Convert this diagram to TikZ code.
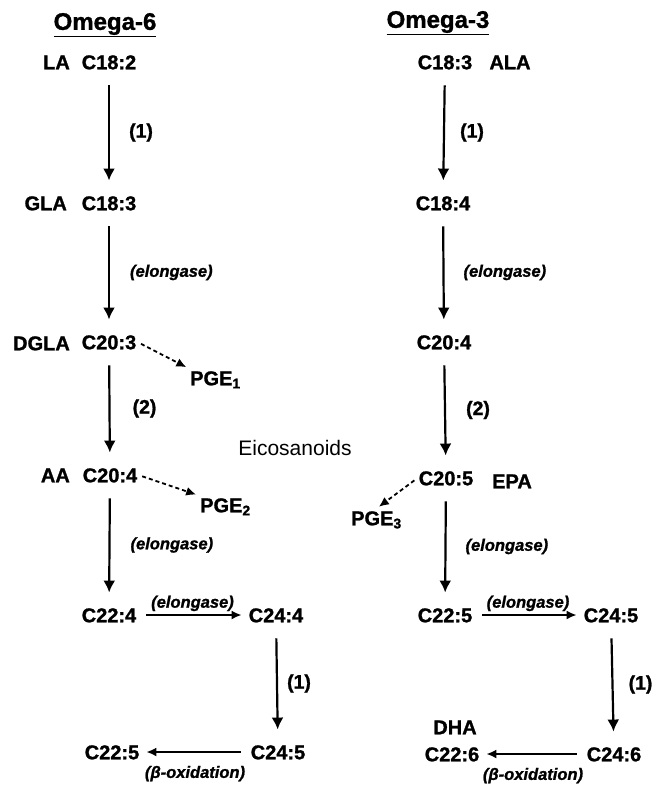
\documentclass[tikz,border=0pt]{standalone}
\usepackage{fontspec}
\setmainfont{Liberation Sans}[BoldFeatures={FakeBold=1.2},BoldItalicFeatures={FakeBold=1.2}]
\usetikzlibrary{arrows.meta}

\begin{document}
\begin{tikzpicture}[x=1pt,y=-1pt,
  acid/.style={font=\bfseries\fontsize{20}{20}\selectfont, inner xsep=1pt, inner ysep=2pt, text height=14.5pt, text depth=0pt},
  head/.style={font=\bfseries\fontsize{24}{24}\selectfont, inner sep=1pt},
  enz/.style={font=\bfseries\itshape\fontsize{16.5}{16.5}\selectfont, inner sep=1pt},
  num/.style={font=\bfseries\fontsize{19.5}{19.5}\selectfont, inner sep=1pt},
  conv/.style={line width=2.2pt, -{Latex[length=12pt,width=12pt]}, shorten <=14pt, shorten >=13pt},
  side/.style={line width=1.8pt, -{Latex[length=10pt,width=9pt]}, shorten <=9pt, shorten >=6pt},
  prost/.style={line width=1.8pt, dash pattern=on 4pt off 3pt, -{Latex[length=10pt,width=9pt]}, shorten <=4pt, shorten >=3pt}
]
\useasboundingbox (0,0) rectangle (658,785);

% headings
\node[head] (om6) at (105,25) {\underline{Omega-6}};
\node[head] (om3) at (438,23) {\underline{Omega-3}};

% omega-6 series
\node[acid] (la) at (109,62) {C18:2};
\node[acid] (gla) at (109,203) {C18:3};
\node[acid] (dgla) at (109,342) {C20:3};
\node[acid] (aa) at (110,475) {C20:4};
\node[acid] (c224) at (109,615) {C22:4};
\node[acid] (c244) at (276,615) {C24:4};
\node[acid] (c245) at (278,752) {C24:5};
\node[acid] (c225) at (112,752) {C22:5};

\node[acid, anchor=east] (lan) at (71,62) {LA};
\node[acid, anchor=east] (glan) at (68,203) {GLA};
\node[acid, anchor=east] (dglan) at (71,343) {DGLA};
\node[acid, anchor=east] (aan) at (71,475) {AA};

\node[acid, anchor=west] (pge1) at (189,378) {PGE\textsubscript{1}};
\node[acid, anchor=west] (pge2) at (199,505) {PGE\textsubscript{2}};

% omega-3 series
\node[acid] (ala) at (445,62) {C18:3};
\node[acid] (c184) at (443,203) {C18:4};
\node[acid] (c204) at (444,342) {C20:4};
\node[acid] (epa) at (446,478) {C20:5};
\node[acid] (c225r) at (445,615) {C22:5};
\node[acid] (c245r) at (611,615) {C24:5};
\node[acid] (c246) at (614,754) {C24:6};
\node[acid] (dha) at (452,754) {C22:6};

\node[acid] (alan) at (510,62) {ALA};
\node[acid] (epan) at (512,481) {EPA};
\node[acid] (dhan) at (455,727) {DHA};

\node[acid, anchor=west] (pge3) at (350,518) {PGE\textsubscript{3}};

\node[font=\fontsize{21}{21}\selectfont] (eic) at (295,448) {Eicosanoids};

% conversions, omega-6
\draw[conv] (la) -- node[num, anchor=west, xshift=18pt] {(1)} (gla);
\draw[conv] (gla) -- node[enz, anchor=west, xshift=19pt] {(elongase)} (dgla);
\draw[conv] (dgla) -- node[num, anchor=west, xshift=21pt] {(2)} (aa);
\draw[conv] (aa) -- node[enz, anchor=west, xshift=19pt] {(elongase)} (c224);
\draw[side] (c224) -- node[enz, anchor=south, yshift=2pt] {(elongase)} (c244);
\draw[conv] (c244) -- node[num, anchor=west, xshift=8pt] {(1)} (c245);
\draw[side] (c245) -- node[enz, anchor=north, yshift=-12pt] {(β-oxidation)} (c225);
\draw[prost] (dgla.east) -- (pge1.north west);
\draw[prost] (aa.east) -- (pge2.north west);

% conversions, omega-3
\draw[conv] (ala) -- node[num, anchor=west, xshift=14pt] {(1)} (c184);
\draw[conv] (c184) -- node[enz, anchor=west, xshift=18pt] {(elongase)} (c204);
\draw[conv] (c204) -- node[num, anchor=west, xshift=19pt] {(2)} (epa);
\draw[conv] (epa) -- node[enz, anchor=west, xshift=18pt] {(elongase)} (c225r);
\draw[side] (c225r) -- node[enz, anchor=south, yshift=2pt] {(elongase)} (c245r);
\draw[conv] (c245r) -- node[num, anchor=west, xshift=14pt] {(1)} (c246);
\draw[side] (c246) -- node[enz, anchor=north, yshift=-12pt] {(β-oxidation)} (dha);
\draw[prost] (epa.west) -- (pge3.north);

\end{tikzpicture}
\end{document}
